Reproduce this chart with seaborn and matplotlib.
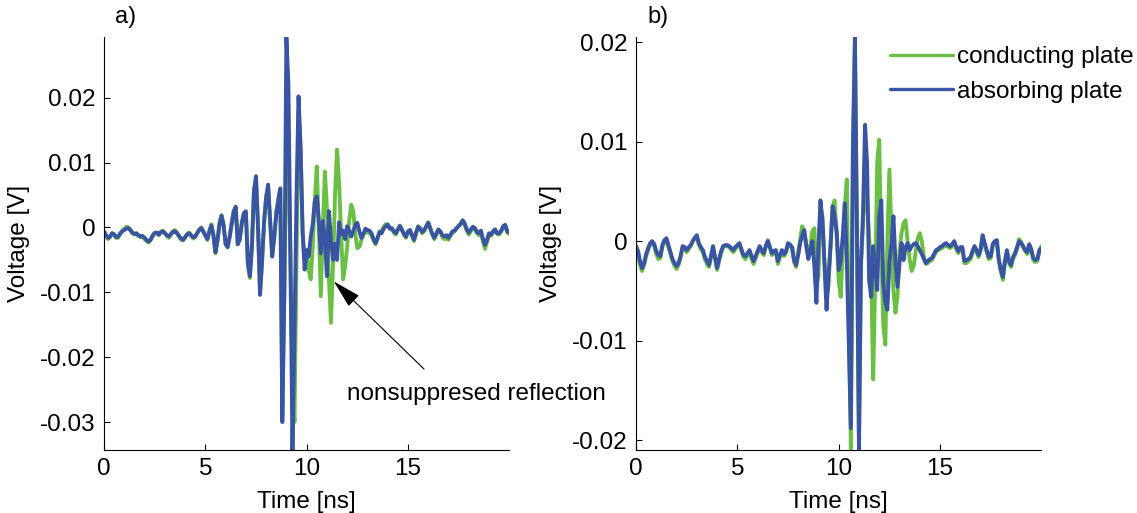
import numpy as np
import matplotlib
matplotlib.use("Agg")
import matplotlib.pyplot as plt
import seaborn as sns

# Sampling grid of the recorded traces [ns]
time_ns = np.round(np.arange(0, 201) * 0.1, 1)

# a) received voltage [mV], conducting plate
cond_a_mV = np.array([
    -0.8, -1.4, -1.8, -1.5, -0.9, -1.0, -1.6, -1.6, -1.0, -0.5,
    -0.2, 0.1, 0.0, -0.4, -0.9, -1.1, -1.0, -1.3, -1.5, -1.5,
    -1.8, -2.1, -2.3, -1.9, -1.2, -0.8, -0.8, -1.2, -0.8, -0.5,
    -0.8, -1.3, -1.6, -1.1, -0.6, -0.4, -0.8, -1.4, -1.9, -2.0,
    -1.6, -1.0, -0.8, -1.3, -1.7, -1.5, -0.8, -0.3, 0.0, -0.7,
    -1.3, -1.9, -0.5, 0.5, -1.3, -4.0, -2.1, 0.7, 1.9, 0.3,
    -2.6, -3.1, -1.4, 0.8, 2.6, 3.0, -2.4, -2.0, 0.8, 2.0,
    2.3, -5.8, -7.8, -2.5, 5.8, 7.5, 0.4, -10.0, -5.5, 0.6,
    4.8, 6.2, 0.5, -4.0, -1.8, 2.4, 4.5, 6.0, -29.0, -10.0,
    10.0, 12.0, -5.0, -24.0, -30.0, -5.0, 18.0, 12.0, -1.0, -5.0,
    -3.5, -6.5, -8.0, -3.0, 4.0, 9.4, 0.0, -10.6, 0.0, 8.6,
    3.0, -8.0, -14.7, -6.0, 5.0, 12.0, 7.0, -1.0, -8.0, -6.0,
    -3.0, 1.0, 3.5, 2.5, -1.0, -3.2, -3.0, -2.0, -1.2, -0.6,
    -0.8, -0.9, -1.2, -2.0, -2.6, -1.8, -0.6, -0.7, 0.1, 0.5,
    0.5, -0.1, -0.2, -0.8, -1.1, -0.4, 0.3, -0.3, -1.1, -1.6,
    -0.8, -0.5, -1.3, -2.1, -1.0, 0.2, -0.1, -0.9, -0.6, 0.1,
    0.8, 0.0, -1.1, -1.8, -1.1, -0.5, -0.8, -1.5, -1.8, -1.6,
    -1.9, -1.3, -0.8, -0.6, -0.2, 0.3, 0.6, 1.0, 0.5, -0.5,
    -1.1, -0.6, -0.1, -0.3, -0.9, -1.2, -0.7, -2.2, -3.3, -2.3,
    -1.1, -1.3, -0.7, -0.5, -1.0, -1.1, -0.6, 0.1, 0.2, -0.8, -1.0,
])

# a) received voltage [mV], absorbing plate
absorb_a_mV = np.array([
    -0.6, -1.2, -1.6, -1.4, -0.9, -1.1, -1.5, -1.4, -0.9, -0.6,
    -0.4, -0.2, -0.1, -0.4, -0.8, -1.0, -0.9, -1.2, -1.4, -1.3,
    -1.6, -1.9, -2.2, -1.9, -1.3, -0.9, -0.8, -1.1, -0.7, -0.6,
    -0.9, -1.2, -1.4, -1.0, -0.7, -0.6, -0.9, -1.3, -1.7, -1.9,
    -1.5, -1.1, -0.9, -1.2, -1.5, -1.4, -0.9, -0.4, -0.1, -0.6,
    -1.2, -1.8, -0.6, 0.3, -1.2, -3.8, -2.0, 0.5, 1.8, 0.4,
    -2.5, -3.0, -1.5, 0.5, 2.4, 3.2, -2.6, -1.8, 0.6, 2.2,
    2.5, -5.5, -7.5, -3.0, 5.5, 7.9, 0.0, -10.4, -5.0, 1.0,
    4.5, 6.6, 1.0, -4.5, -1.5, 2.0, 4.0, 6.0, -30.0, -10.0,
    29.3, 22.0, -5.0, -34.3, -15.8, 4.8, 20.2, 12.5, -0.4, -6.5,
    -3.5, -4.5, -1.5, 0.5, 4.0, 4.8, 1.0, -4.0, 1.0, -1.5,
    -7.5, 2.5, -2.0, -5.0, -2.5, -5.0, 0.8, -1.0, -0.5, -1.8,
    0.2, -0.5, -1.4, -0.6, 0.4, 0.7, -0.6, -1.6, -1.0, -0.2,
    -0.4, -0.5, -0.9, -1.8, -2.4, -1.6, -0.7, -0.9, -0.2, 0.2,
    0.4, -0.2, -0.1, -0.6, -0.9, -0.3, 0.2, -0.4, -1.0, -1.4,
    -0.6, -0.4, -1.2, -1.9, -0.8, 0.1, -0.2, -0.7, -0.4, 0.2,
    0.7, -0.2, -1.0, -1.6, -0.9, -0.3, -0.6, -1.2, -1.4, -1.2,
    -1.6, -1.1, -0.6, -0.5, -0.1, 0.2, 0.5, 1.1, 0.6, -0.3,
    -0.8, -0.3, 0.1, -0.1, -0.7, -0.9, -0.5, -1.8, -2.7, -1.9,
    -0.9, -1.1, -0.6, -0.3, -0.9, -0.9, -0.5, 0.2, 0.4, -0.6, -0.8,
])

# b) received voltage [mV], conducting plate
cond_b_mV = np.array([
    -0.6, -1.3, -2.4, -3.0, -2.4, -1.5, -0.9, -0.3, -0.1, -0.5,
    -1.3, -1.8, -1.7, -0.6, 0.0, 0.1, -0.6, -1.3, -2.0, -2.5,
    -2.8, -2.4, -1.6, -0.6, -0.8, -1.1, -0.8, -0.5, 0.0, 0.4,
    0.5, -0.4, -0.8, -1.1, -1.8, -2.3, -2.6, -1.6, -0.7, -1.8,
    -2.9, -2.0, -1.2, -0.6, -0.5, -0.5, -0.6, -0.9, -1.1, -0.8,
    -0.5, -0.3, -1.0, -1.6, -1.8, -1.4, -1.1, -1.8, -2.3, -1.7,
    -1.2, -0.7, -1.1, -1.4, -0.6, 0.1, -0.5, -1.4, -1.2, -1.1,
    -2.3, -1.6, -1.0, -1.5, -1.2, -0.3, -0.3, -0.8, -2.1, -2.6,
    -1.2, 0.2, 1.5, 1.0, -0.3, -1.5, -0.5, 1.0, 1.3, -4.5,
    -3.5, 3.5, 2.5, -2.0, -5.5, -4.5, 0.0, 3.5, 4.1, 0.5,
    -4.0, -5.6, -1.0, 3.5, 6.2, -8.0, -20.9, 9.0, 20.0, 1.0,
    -20.0, -2.2, 1.5, 6.0, 4.0, 0.5, -3.0, -13.9, -4.0, 8.0,
    10.2, -1.0, -8.5, -10.4, 0.0, 7.2, 1.0, -5.0, -7.2, -5.5,
    -1.0, 0.8, 1.8, 2.1, 0.0, -1.8, -3.0, -2.5, -1.0, 0.3,
    0.8, 0.0, -1.5, -2.3, -2.2, -2.0, -1.9, -1.5, -1.1, -0.9,
    -0.8, -0.7, -0.5, -0.4, -0.6, -0.7, -0.5, -0.2, -0.8, -1.2,
    -0.8, -0.8, -2.2, -2.2, -2.0, -1.8, -1.2, -0.7, -1.1, -1.6,
    -1.0, 0.4, -0.4, -1.1, -1.8, -1.7, -0.5, -0.2, -0.1, -2.0,
    -3.1, -3.9, -2.2, -1.1, -2.2, -2.6, -1.8, -1.4, -0.8, 0.2,
    -0.1, -0.6, -1.0, -1.3, -0.5, -1.0, -1.9, -2.1, -2.0, -1.0, -0.5,
])

# b) received voltage [mV], absorbing plate
absorb_b_mV = np.array([
    -0.5, -1.0, -2.0, -2.7, -2.2, -1.3, -0.7, -0.2, 0.0, -0.3,
    -1.0, -1.4, -1.5, -0.4, 0.1, 0.3, -0.4, -1.1, -1.8, -2.2,
    -2.5, -2.2, -1.5, -0.5, -0.6, -0.9, -0.6, -0.4, 0.0, 0.3,
    0.6, -0.2, -0.6, -0.9, -1.6, -2.0, -2.4, -1.5, -0.5, -1.6,
    -2.7, -1.8, -1.0, -0.5, -0.4, -0.4, -0.5, -0.7, -0.9, -0.6,
    -0.4, -0.2, -0.8, -1.4, -1.5, -1.2, -0.9, -1.5, -2.0, -1.5,
    -1.0, -0.5, -0.9, -1.2, -0.5, 0.0, -0.6, -1.2, -1.0, -0.9,
    -2.0, -1.4, -0.9, -1.3, -1.0, -0.2, -0.4, -0.6, -1.9, -2.4,
    -1.4, -0.2, 0.6, 1.1, -0.5, -1.8, -1.0, 0.0, -2.5, -6.2,
    -0.5, 4.1, 2.0, -2.5, -6.9, -3.5, -0.5, 3.5, 2.5, 1.0,
    -2.9, -1.9, 0.5, 3.8, -2.0, -10.6, -18.8, 9.2, 20.5, 1.1,
    -21.0, -2.2, 2.8, 11.7, 7.8, -3.9, -5.6, -0.5, -2.9, -4.9,
    2.5, 4.1, -4.2, -6.2, -6.9, -2.2, -0.2, 2.5, -2.2, -4.6,
    -2.2, -0.2, -1.9, -0.6, -0.2, -0.9, -0.5, -0.3, -0.2, -0.5,
    -0.9, -1.3, -1.8, -2.2, -2.0, -1.8, -1.7, -1.3, -0.9, -0.8,
    -0.6, -0.5, -0.3, -0.2, -0.4, -0.5, -0.3, 0.0, -0.6, -1.0,
    -0.6, -0.6, -2.0, -1.9, -1.8, -1.6, -1.0, -0.5, -0.9, -1.4,
    -0.8, 0.6, -0.2, -0.9, -1.6, -1.5, -0.3, 0.0, 0.1, -1.8,
    -2.9, -3.6, -2.0, -0.9, -2.0, -2.4, -1.6, -1.2, -0.6, 0.0,
    -0.2, -0.5, -0.9, -1.1, -0.3, -0.8, -1.7, -1.9, -1.8, -0.9, -0.7,
])

series_labels = ["conducting plate", "absorbing plate"]
panel_labels = ["a)", "b)"]
x_ticks = [0, 5, 10, 15]
y_ticks_a = [-0.03, -0.02, -0.01, 0, 0.01, 0.02]
y_tick_labels_a = ["-0.03", "-0.02", "-0.01", "0", "0.01", "0.02"]
y_ticks_b = [-0.02, -0.01, 0, 0.01, 0.02]
y_tick_labels_b = ["-0.02", "-0.01", "0", "0.01", "0.02"]
note_text = "nonsuppresed reflection"

GREEN = "#6cbf45"
BLUE = "#3a54a4"
LW = 2.8
FS = 17.5

sns.set_theme(style="white")
plt.rcParams["font.family"] = ["Liberation Sans", "DejaVu Sans"]
plt.rcParams.update({
    "axes.edgecolor": "black",
    "axes.linewidth": 0.8,
    "xtick.bottom": True,
    "ytick.left": True,
    "xtick.color": "black",
    "ytick.color": "black",
    "text.color": "black",
    "axes.labelcolor": "black",
})

fig = plt.figure(figsize=(11.37, 5.13), dpi=100)
ax_a = fig.add_axes([0.09147, 0.1228, 0.35646, 0.8045])
ax_b = fig.add_axes([0.55937, 0.1228, 0.35655, 0.8045])

panels = [
    (ax_a, cond_a_mV, absorb_a_mV, y_ticks_a, y_tick_labels_a),
    (ax_b, cond_b_mV, absorb_b_mV, y_ticks_b, y_tick_labels_b),
]

for i, (ax, cond, absorb, yt, ytl) in enumerate(panels):
    cond_v = cond / 1000.0
    absorb_v = absorb / 1000.0
    show_legend = (i == 1)
    sns.lineplot(x=time_ns, y=cond_v, ax=ax, color=GREEN, linewidth=LW,
                 label=series_labels[0] if show_legend else None,
                 legend=show_legend, estimator=None)
    sns.lineplot(x=time_ns, y=absorb_v, ax=ax, color=BLUE, linewidth=LW,
                 label=series_labels[1] if show_legend else None,
                 legend=show_legend, estimator=None)

    ax.set_xlim(0, 20)
    ax.set_ylim(min(cond_v.min(), absorb_v.min()), max(cond_v.max(), absorb_v.max()))
    ax.set_xticks(x_ticks)
    ax.set_xticklabels([str(t) for t in x_ticks])
    ax.set_yticks(yt)
    ax.set_yticklabels(ytl)
    ax.tick_params(direction="in", length=4, width=0.8, labelsize=FS, pad=6,
                   colors="black")
    ax.spines[["top", "right"]].set_visible(False)
    for s in ("left", "bottom"):
        ax.spines[s].set_color("black")
        ax.spines[s].set_linewidth(0.8)
    ax.set_facecolor("white")
    ax.set_xlabel("Time [ns]", fontsize=FS)
    ax.set_ylabel("Voltage [V]", fontsize=FS)
    ax.xaxis.set_label_coords(0.5, -0.099)
    ax.yaxis.set_label_coords(-0.183, 0.5)

    x0 = ax.get_position().x0
    fig.text(x0 + 11 / 1137, 1 - 23 / 513, panel_labels[i], fontsize=17,
             va="baseline", ha="left")

# arrow pointing at the reflected pulse of the conducting plate
ax_a.annotate("", xy=(11.34, -0.00832), xytext=(15.79, -0.02182),
              arrowprops=dict(arrowstyle="-|>,head_length=0.5,head_width=0.13",
                              color="black", lw=0.8, shrinkA=0, shrinkB=0,
                              mutation_scale=36),
              annotation_clip=False)
ax_a.text(12.0, -0.02655, note_text, fontsize=FS, ha="left", va="baseline",
          clip_on=False)

leg = ax_b.legend(loc="upper left", bbox_to_anchor=(0.627, 0.978), frameon=False,
                  fontsize=FS, handlelength=2.6, handletextpad=0.15,
                  labelspacing=0.5, borderpad=0, borderaxespad=0)
for line in leg.get_lines():
    line.set_linewidth(2.4)

fig.savefig("out.png", dpi=100, facecolor="white")
